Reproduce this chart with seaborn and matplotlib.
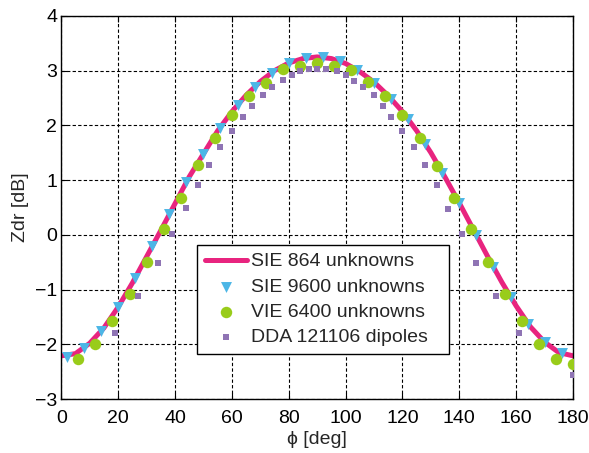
# Zdr vs phi: SIE / VIE / DDA comparison
import numpy as np
import pandas as pd
import matplotlib
matplotlib.use("Agg")
import matplotlib.pyplot as plt
import seaborn as sns

# ------------------------------------------------------------
# DATA
# ------------------------------------------------------------

# SIE 864 unknowns (solid line)
sie864_phi = [0, 5, 10, 15, 20, 25, 30, 35, 40, 45, 50, 55, 60, 65, 70, 75, 80, 85, 90,
              95, 100, 105, 110, 115, 120, 125, 130, 135, 140, 145, 150, 155, 160, 165,
              170, 175, 180]
sie864_zdr = [-2.21, -2.17, -1.98, -1.70, -1.32, -0.88, -0.40, 0.08, 0.57, 1.06, 1.48,
              1.90, 2.25, 2.55, 2.80, 3.00, 3.14, 3.22, 3.25, 3.22, 3.13, 2.98, 2.79,
              2.54, 2.25, 1.90, 1.50, 1.05, 0.58, 0.09, -0.40, -0.87, -1.30, -1.68,
              -1.96, -2.15, -2.21]

# SIE 9600 unknowns (triangles)
sie9600_phi = [2, 8, 14, 20, 26, 32, 38, 44, 50, 56, 62, 68, 74, 80, 86, 92, 98, 104,
               110, 116, 122, 128, 134, 140, 146, 152, 158, 164, 170, 176]
sie9600_zdr = [-2.24, -2.07, -1.75, -1.31, -0.78, -0.20, 0.38, 0.97, 1.48, 1.96, 2.37,
               2.70, 2.96, 3.13, 3.23, 3.24, 3.17, 3.01, 2.78, 2.49, 2.11, 1.66, 1.13,
               0.58, 0.00, -0.59, -1.14, -1.62, -1.96, -2.16]

# VIE 6400 unknowns (circles)
vie6400_phi = [6, 12, 18, 24, 30, 36, 42, 48, 54, 60, 66, 72, 78, 84, 90, 96, 102, 108,
               114, 120, 126, 132, 138, 144, 150, 156, 162, 168, 174, 180]
vie6400_zdr = [-2.26, -2.00, -1.58, -1.08, -0.50, 0.10, 0.68, 1.27, 1.76, 2.18, 2.53,
               2.78, 3.03, 3.08, 3.14, 3.08, 3.02, 2.79, 2.53, 2.18, 1.76, 1.26, 0.68,
               0.10, -0.50, -1.08, -1.58, -2.00, -2.27, -2.35]

# DDA 121106 dipoles (small squares)
dda_phi = [19, 27, 34, 39, 44, 48, 52, 56, 60, 64, 67, 71, 74, 78, 81, 84, 87, 90, 93,
           97, 100, 103, 106, 110, 113, 116, 120, 124, 128, 132, 136, 141, 146, 153,
           161, 180]
dda_zdr = [-1.79, -1.12, -0.52, 0.02, 0.49, 0.91, 1.28, 1.60, 1.90, 2.15, 2.35, 2.55,
           2.70, 2.82, 2.92, 2.99, 3.03, 3.03, 3.03, 2.99, 2.92, 2.81, 2.70, 2.55, 2.35,
           2.15, 1.90, 1.60, 1.27, 0.91, 0.48, 0.02, -0.52, -1.12, -1.79, -2.56]

x_ticks = [0, 20, 40, 60, 80, 100, 120, 140, 160, 180]
y_ticks = [-3, -2, -1, 0, 1, 2, 3, 4]

# ------------------------------------------------------------
# STYLE
# ------------------------------------------------------------

sns.set_style("ticks")
plt.rcParams["font.family"] = ["Liberation Sans", "DejaVu Sans"]
plt.rcParams["font.size"] = 14

fig = plt.figure(figsize=(5.89, 4.53), dpi=100)
ax = fig.add_axes([0.104, 0.119, 0.869, 0.846])

# ------------------------------------------------------------
# PLOT
# ------------------------------------------------------------

sns.lineplot(x=sie864_phi, y=sie864_zdr, ax=ax, color="#e8247f", linewidth=3.6,
             label="SIE 864 unknowns", zorder=2)

sns.scatterplot(x=sie9600_phi, y=sie9600_zdr, ax=ax, marker="v", s=62,
                color="#4cb6e6", linewidth=0, label="SIE 9600 unknowns", zorder=3)

sns.scatterplot(x=vie6400_phi, y=vie6400_zdr, ax=ax, marker="o", s=68,
                color="#99cc1a", linewidth=0, label="VIE 6400 unknowns", zorder=4)

sns.scatterplot(x=dda_phi, y=dda_zdr, ax=ax, marker="s", s=14,
                color="#8f74b4", linewidth=0, label="DDA 121106 dipoles", zorder=5)

# ------------------------------------------------------------
# AXES
# ------------------------------------------------------------

ax.set_xlim(0, 180)
ax.set_ylim(-3, 4)
ax.set_xticks(x_ticks)
ax.set_yticks(y_ticks)
ax.set_xlabel("ϕ [deg]", fontsize=14, labelpad=3)
ax.set_ylabel("Zdr [dB]", fontsize=14, labelpad=4)

ax.grid(True, color="black", linestyle=(0, (3, 2)), linewidth=0.8)
ax.set_axisbelow(True)

for side in ["top", "right", "bottom", "left"]:
    ax.spines[side].set_visible(True)
    ax.spines[side].set_color("black")
    ax.spines[side].set_linewidth(1.0)

ax.tick_params(direction="in", length=4, width=0.8, top=True, right=True,
               labelsize=14, colors="black")
ax.tick_params(axis="x", pad=8)
ax.tick_params(axis="y", pad=3)

# ------------------------------------------------------------
# LEGEND
# ------------------------------------------------------------

leg = ax.legend(loc="lower left", bbox_to_anchor=(0.265, 0.117, 0.492, 0.285),
                mode="expand", borderaxespad=0,
                fontsize=14, frameon=True, fancybox=False, framealpha=1,
                edgecolor="black", handlelength=2.2, handletextpad=0.2,
                labelspacing=0.4, borderpad=0.4)
leg.get_frame().set_linewidth(1.0)

fig.savefig("out.png", dpi=100)
